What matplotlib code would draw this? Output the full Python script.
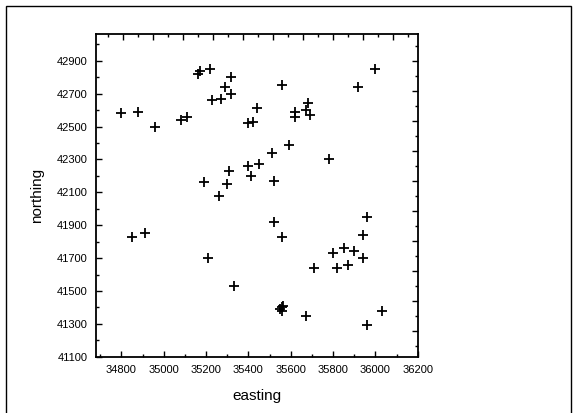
import numpy as np
import matplotlib
matplotlib.use("Agg")
import matplotlib.pyplot as plt
from matplotlib.ticker import MultipleLocator, FixedLocator
from matplotlib.patches import Rectangle

plt.rcParams['font.family'] = ['Liberation Sans', 'DejaVu Sans']

# sample locations
easting = [34800, 34880, 34960, 35080, 35110, 35160, 35170, 35220, 35320,
           35290, 35320, 35230, 35270, 35440, 35400, 35420, 35190, 35260,
           35300, 35310, 35400, 35450, 35410, 35560, 35920, 36000, 35620,
           35620, 35680, 35690, 35670, 35590, 35510, 35520, 35780, 34850,
           34910, 35210, 35330, 35520, 35560, 35960, 35940, 35800, 35850,
           35900, 35940, 35710, 35820, 35870, 35550, 35560, 35560, 35565,
           35670, 35960, 36030]
northing = [42580, 42590, 42500, 42540, 42560, 42820, 42835, 42850, 42800,
            42740, 42700, 42660, 42670, 42610, 42520, 42530, 42160, 42080,
            42150, 42230, 42260, 42270, 42200, 42750, 42740, 42850, 42590,
            42560, 42645, 42570, 42600, 42390, 42340, 42170, 42300, 41830,
            41850, 41700, 41530, 41920, 41830, 41950, 41840, 41730, 41760,
            41740, 41700, 41640, 41640, 41660, 41390, 41380, 41400, 41410,
            41350, 41290, 41380]

W, H = 579, 413
fig = plt.figure(figsize=(W / 100, H / 100), dpi=100)

# frame around the figure
fig.patches.append(Rectangle((6 / W, -0.05), 565 / W, 1.05 - 6 / H,
                             transform=fig.transFigure, fill=False,
                             edgecolor='black', lw=1.0))

left, right, bottom, top = 96, 417.7, 356.7, 34
pos = [left / W, 1 - bottom / H, (right - left) / W, (bottom - top) / H]
ax = fig.add_axes(pos)

ax.plot(easting, northing, linestyle='none', marker='+', color='black',
        markersize=7.5, markeredgewidth=1.3)

ax.set_xlim(34680, 36200)
ax.set_ylim(41100, 43063)
ax.xaxis.set_major_locator(MultipleLocator(200))
ax.xaxis.set_minor_locator(MultipleLocator(100))
ax.yaxis.set_major_locator(MultipleLocator(200))
ax.yaxis.set_minor_locator(MultipleLocator(100))
ax.set_xticks(np.arange(34800, 36201, 200))
ax.set_yticks(np.arange(41100, 42901, 200))
ax.tick_params(which='both', direction='in', top=False, right=False,
               labelsize=8, width=1, pad=6)
ax.tick_params(which='major', length=4)
ax.tick_params(which='minor', length=2.5)
for s in ax.spines.values():
    s.set_linewidth(1.3)

ax.set_xlabel('easting', fontsize=11, labelpad=10)
ax.set_ylabel('northing', fontsize=11, labelpad=9)

# top and right ticks follow their own spacing in the original
ax2 = fig.add_axes(pos, frameon=False)
ax2.set_xlim(0, right - left)
ax2.set_ylim(bottom - top, 0)
ax2.xaxis.set_major_locator(FixedLocator(np.arange(27.3, right - left, 30)))
ax2.xaxis.set_minor_locator(FixedLocator(np.arange(12.3, right - left, 30)))
ax2.yaxis.set_major_locator(FixedLocator(np.arange(27, bottom - top, 30)))
ax2.yaxis.set_minor_locator(FixedLocator(np.arange(11.7, bottom - top, 30)))
ax2.tick_params(which='both', direction='in', top=True, right=True,
                bottom=False, left=False, labeltop=False, labelright=False,
                labelbottom=False, labelleft=False, width=1)
ax2.tick_params(which='major', length=4)
ax2.tick_params(which='minor', length=2.5)

fig.savefig('out.png', dpi=100)
